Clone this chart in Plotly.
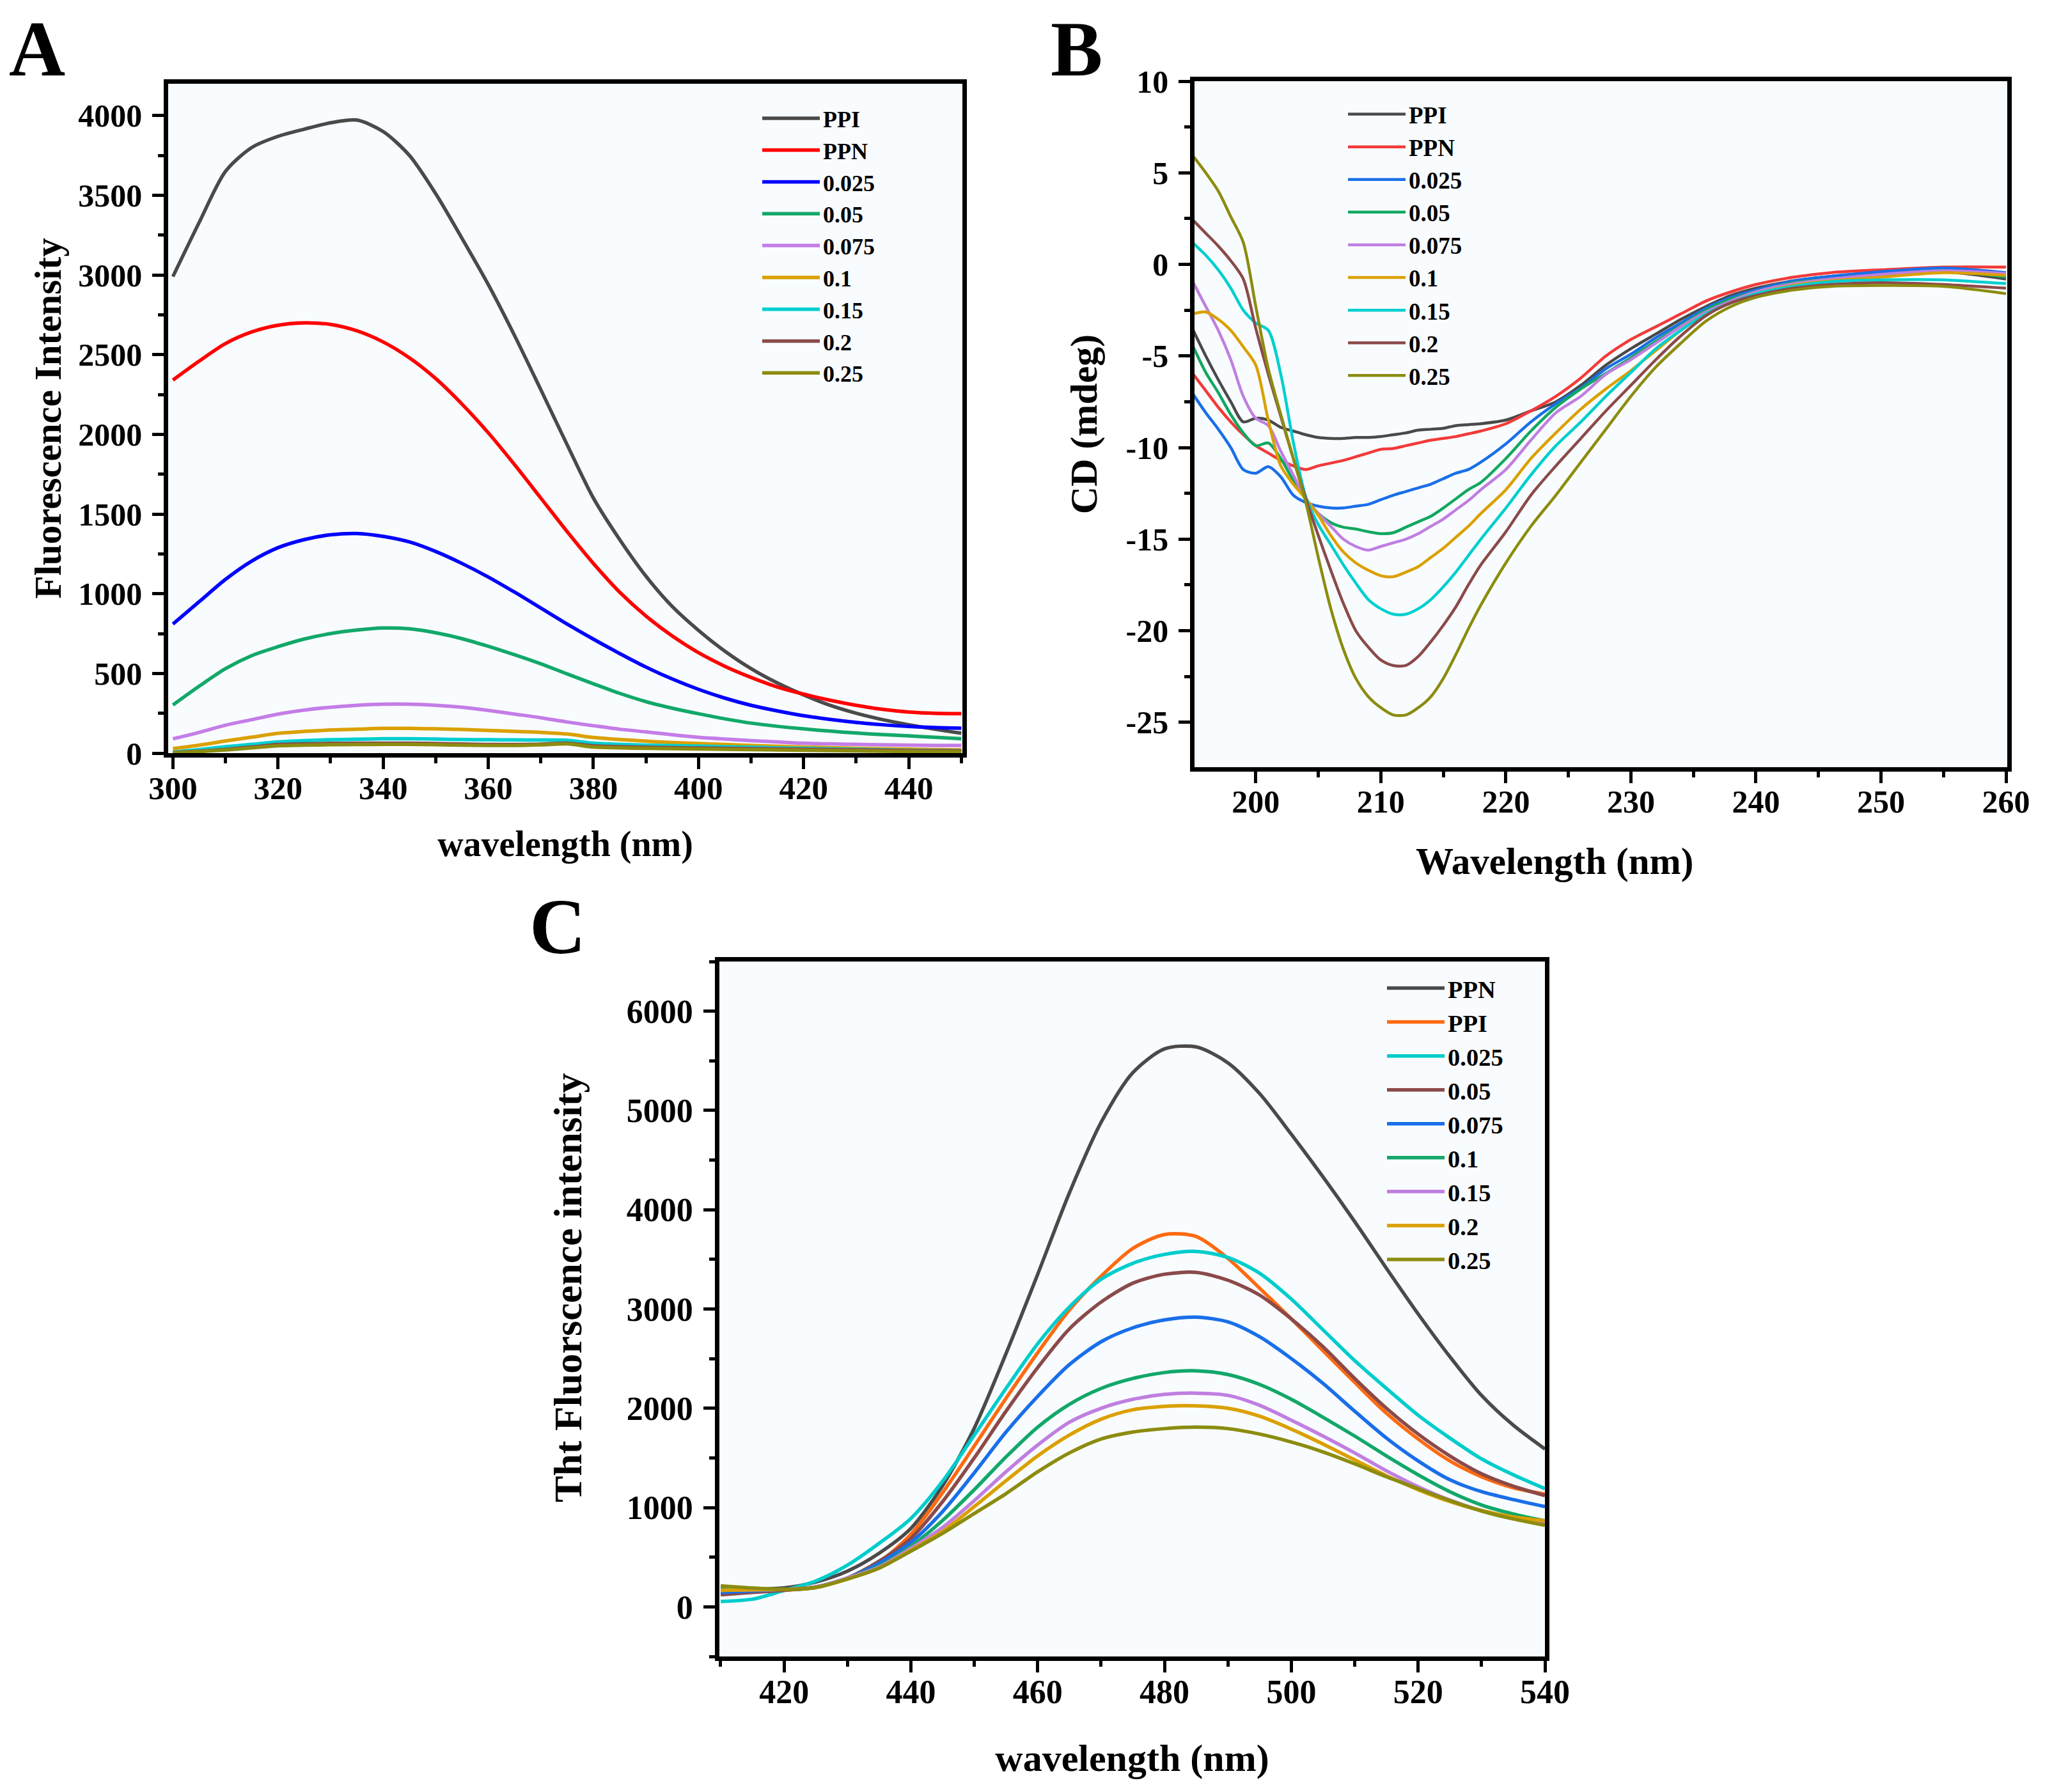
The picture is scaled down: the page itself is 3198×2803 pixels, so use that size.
import plotly.graph_objects as go

# ---------------- Panel A : intrinsic fluorescence ----------------
A_wavelength = [300, 305, 310, 315, 320, 325, 330, 335, 340, 345, 350, 355, 360, 365, 370,
                375, 380, 385, 390, 395, 400, 405, 410, 415, 420, 425, 430, 435, 440, 445, 450]
A_PPI = [2990, 3330, 3650, 3800, 3870, 3915, 3955, 3972, 3900, 3750, 3510, 3230, 2940, 2620, 2280,
         1935, 1600, 1340, 1110, 920, 770, 640, 530, 440, 365, 300, 250, 210, 178, 150, 125]
A_PPN = [2341, 2460, 2570, 2643, 2685, 2700, 2690, 2650, 2580, 2480, 2350, 2190, 2010, 1810, 1600,
         1390, 1190, 1010, 860, 735, 630, 545, 475, 415, 370, 332, 300, 275, 258, 250, 248]
A_c0025 = [810, 950, 1090, 1205, 1289, 1340, 1370, 1378, 1360, 1325, 1265, 1190, 1105, 1010, 910,
           810, 715, 625, 540, 465, 400, 345, 300, 265, 235, 212, 193, 178, 167, 160, 156]
A_c005 = [302, 420, 530, 612, 668, 716, 750, 772, 785, 780, 755, 718, 670, 617, 560,
          497, 435, 375, 323, 282, 247, 215, 188, 168, 152, 138, 126, 116, 108, 99, 90]
A_c0075 = [90, 130, 175, 210, 245, 270, 288, 300, 307, 307, 300, 288, 268, 245, 222,
           195, 172, 150, 133, 115, 99, 88, 78, 70, 62, 58, 55, 52, 50, 48, 48]
A_c01 = [28, 50, 76, 100, 124, 136, 145, 150, 155, 155, 152, 148, 142, 136, 130,
         120, 98, 85, 75, 66, 60, 54, 48, 43, 38, 34, 30, 27, 25, 22, 20]
A_c015 = [6, 22, 40, 55, 70, 78, 84, 87, 90, 90, 88, 85, 84, 83, 82,
          80, 62, 55, 50, 47, 44, 40, 37, 33, 30, 27, 24, 21, 18, 16, 14]
A_c02 = [3, 12, 23, 38, 54, 58, 61, 62, 62, 62, 60, 57, 54, 54, 56,
         62, 45, 40, 37, 34, 32, 30, 28, 26, 24, 22, 20, 18, 16, 15, 14]
A_c025 = [2, 10, 20, 33, 46, 50, 53, 54, 55, 55, 53, 50, 48, 48, 52,
          58, 38, 33, 30, 28, 26, 24, 22, 20, 18, 16, 14, 12, 11, 10, 9]
A_names = ["PPI", "PPN", "0.025", "0.05", "0.075", "0.1", "0.15", "0.2", "0.25"]
A_series = [A_PPI, A_PPN, A_c0025, A_c005, A_c0075, A_c01, A_c015, A_c02, A_c025]
A_colors = ["#4a4a4a", "#ff0000", "#0000ff", "#12a86a", "#c47de8", "#dba000", "#00cfcf", "#8b4a4a", "#8c8c10"]
A_xticks = [300, 320, 340, 360, 380, 400, 420, 440]
A_yticks = [0, 500, 1000, 1500, 2000, 2500, 3000, 3500, 4000]

# ---------------- Panel B : circular dichroism ----------------
B_wavelength = [195, 196, 197, 198, 199, 200, 201, 202, 203, 204, 205, 206, 207, 208, 209, 210,
                211, 212, 213, 214, 215, 216, 217, 218, 220, 222, 224, 226, 228, 230, 232, 234,
                236, 238, 240, 243, 246, 250, 255, 260]
B_PPI = [-3.6, -5.0, -6.3, -7.5, -8.6, -8.4, -8.5, -8.9, -9.1, -9.3, -9.45, -9.5, -9.5, -9.45, -9.45, -9.4,
         -9.3, -9.2, -9.05, -9.0, -8.95, -8.8, -8.75, -8.7, -8.5, -8.0, -7.5, -6.6, -5.5, -4.6, -3.8, -3.0,
         -2.3, -1.7, -1.3, -0.9, -0.65, -0.5, -0.4, -0.8]
B_PPN = [-6.0, -6.9, -7.8, -8.6, -9.3, -9.9, -10.3, -10.7, -11.0, -11.2, -11.0, -10.85, -10.7, -10.5, -10.3, -10.1,
         -10.05, -9.9, -9.75, -9.6, -9.5, -9.4, -9.25, -9.1, -8.7, -8.0, -7.2, -6.2, -5.0, -4.1, -3.4, -2.7,
         -2.0, -1.5, -1.1, -0.7, -0.45, -0.3, -0.15, -0.15]
B_c0025 = [-7.1, -8.1, -9.0, -10.0, -11.2, -11.4, -11.05, -11.6, -12.6, -13.0, -13.2, -13.3, -13.3, -13.2, -13.1, -12.85,
           -12.6, -12.4, -12.2, -12.0, -11.7, -11.4, -11.2, -10.8, -9.8, -8.6, -7.6, -6.75, -5.7, -4.9, -4.0, -3.2,
           -2.4, -1.8, -1.4, -0.9, -0.65, -0.4, -0.2, -0.45]
B_c005 = [-4.5, -5.9, -7.0, -8.2, -9.2, -9.9, -9.75, -10.6, -11.8, -12.8, -13.6, -14.1, -14.35, -14.45, -14.6, -14.7,
          -14.65, -14.35, -14.05, -13.75, -13.3, -12.8, -12.3, -11.9, -10.6, -9.1, -7.8, -6.8, -5.95, -5.1, -4.2, -3.35,
          -2.5, -1.9, -1.5, -1.0, -0.8, -0.6, -0.35, -0.7]
B_c0075 = [-1.0, -2.3, -3.6, -5.2, -7.2, -8.4, -8.8, -10.2, -11.5, -12.8, -13.6, -14.3, -15.0, -15.4, -15.6, -15.4,
           -15.2, -15.0, -14.7, -14.3, -13.9, -13.4, -12.9, -12.3, -11.2, -9.6, -8.1, -7.2, -6.0, -5.2, -4.3, -3.4,
           -2.6, -2.0, -1.5, -1.05, -0.8, -0.55, -0.35, -0.5]
B_c01 = [-2.7, -2.6, -3.0, -3.6, -4.5, -5.5, -8.5, -11.0, -12.0, -12.8, -13.7, -14.8, -15.7, -16.3, -16.7, -17.0,
         -17.05, -16.8, -16.5, -16.0, -15.5, -14.9, -14.3, -13.6, -12.3, -10.6, -9.2, -7.9, -6.8, -5.8, -4.7, -3.6,
         -2.7, -2.1, -1.6, -1.15, -0.9, -0.7, -0.45, -0.6]
B_c015 = [1.15, 0.5, -0.3, -1.3, -2.5, -3.2, -3.6, -6.0, -9.7, -12.7, -14.2, -15.3, -16.4, -17.4, -18.3, -18.8,
          -19.1, -19.1, -18.8, -18.3, -17.6, -16.8, -15.9, -15.0, -13.3, -11.5, -9.9, -8.6, -7.2, -5.9, -4.6, -3.6,
          -2.7, -2.1, -1.6, -1.2, -0.95, -0.85, -0.85, -1.05]
B_c02 = [2.4, 1.7, 1.0, 0.2, -0.8, -3.5, -6.0, -8.3, -10.6, -12.8, -14.8, -16.7, -18.5, -20.0, -20.9, -21.6,
         -21.9, -21.9, -21.4, -20.6, -19.7, -18.7, -17.5, -16.4, -14.6, -12.6, -11.0, -9.5, -8.0, -6.6, -5.2, -3.9,
         -2.8, -2.1, -1.7, -1.3, -1.1, -1.0, -1.1, -1.3]
B_c025 = [5.9, 5.0, 4.0, 2.6, 1.2, -2.3, -5.7, -8.2, -10.6, -13.0, -16.0, -18.8, -21.0, -22.6, -23.6, -24.2,
          -24.6, -24.6, -24.2, -23.6, -22.6, -21.3, -19.9, -18.6, -16.3, -14.3, -12.6, -10.8, -9.0, -7.2, -5.6, -4.3,
          -3.1, -2.3, -1.8, -1.4, -1.2, -1.15, -1.2, -1.6]
B_names = ["PPI", "PPN", "0.025", "0.05", "0.075", "0.1", "0.15", "0.2", "0.25"]
B_series = [B_PPI, B_PPN, B_c0025, B_c005, B_c0075, B_c01, B_c015, B_c02, B_c025]
B_colors = ["#4a4a4a", "#f23a3a", "#1a6fe8", "#12a860", "#c07fe0", "#dba000", "#00cfcf", "#8b4a4a", "#8c8c10"]
B_xticks = [200, 210, 220, 230, 240, 250, 260]
B_yticks = [-25, -20, -15, -10, -5, 0, 5, 10]
B_yticklabels = ["-25", "-20", "-15", "-10", "-5", "0", "5", "10"]

# ---------------- Panel C : ThT fluorescence ----------------
C_wavelength = [410, 415, 420, 425, 430, 435, 440, 445, 450, 455, 460, 465, 470, 475, 480,
                485, 490, 495, 500, 505, 510, 515, 520, 525, 530, 535, 540]
C_PPN = [167, 175, 190, 250, 360, 540, 790, 1220, 1800, 2550, 3350, 4170, 4880, 5380, 5620,
         5640, 5480, 5170, 4760, 4330, 3880, 3410, 2950, 2520, 2130, 1830, 1590]
C_PPI = [144, 155, 167, 200, 290, 450, 730, 1150, 1620, 2100, 2560, 2990, 3330, 3610, 3750,
         3730, 3510, 3210, 2900, 2580, 2260, 1950, 1690, 1470, 1310, 1200, 1135]
C_c0025 = [54, 77, 165, 260, 420, 640, 890, 1265, 1730, 2200, 2650, 3020, 3300, 3460, 3550,
           3580, 3520, 3360, 3100, 2790, 2480, 2200, 1930, 1700, 1490, 1330, 1190]
C_c005 = [122, 145, 167, 195, 290, 460, 690, 1060, 1500, 1970, 2410, 2800, 3070, 3260, 3350,
          3369, 3290, 3140, 2900, 2620, 2300, 2000, 1740, 1520, 1340, 1215, 1120]
C_c0075 = [144, 160, 176, 200, 290, 440, 650, 960, 1350, 1760, 2120, 2440, 2670, 2810, 2890,
           2918, 2870, 2720, 2500, 2250, 1970, 1700, 1470, 1280, 1160, 1080, 1010]
C_c01 = [190, 180, 176, 200, 290, 410, 610, 870, 1180, 1510, 1810, 2040, 2200, 2300, 2360,
         2377, 2340, 2240, 2090, 1910, 1720, 1520, 1330, 1160, 1025, 935, 866]
C_c015 = [167, 172, 176, 200, 290, 400, 590, 800, 1070, 1360, 1630, 1860, 2000, 2090, 2140,
          2152, 2130, 2030, 1880, 1720, 1550, 1370, 1210, 1075, 970, 900, 853]
C_c02 = [167, 172, 176, 195, 280, 390, 570, 760, 1010, 1270, 1520, 1730, 1890, 1985, 2020,
         2025, 2000, 1920, 1790, 1640, 1480, 1320, 1180, 1060, 970, 905, 866]
C_c025 = [212, 190, 176, 195, 280, 390, 560, 740, 940, 1140, 1360, 1550, 1690, 1760, 1795,
          1810, 1795, 1740, 1660, 1560, 1440, 1310, 1190, 1070, 965, 885, 821]
C_names = ["PPN", "PPI", "0.025", "0.05", "0.075", "0.1", "0.15", "0.2", "0.25"]
C_series = [C_PPN, C_PPI, C_c0025, C_c005, C_c0075, C_c01, C_c015, C_c02, C_c025]
C_colors = ["#4a4a4a", "#ff6a10", "#00cccc", "#8b4a4a", "#1a6fe8", "#12a86a", "#c07fe0", "#dba000", "#8c8c10"]
C_xticks = [420, 440, 460, 480, 500, 520, 540]
C_yticks = [0, 1000, 2000, 3000, 4000, 5000, 6000]

# ---------------- layout helpers ----------------
W, H = 3198, 2803
SERIF = "Liberation Serif"


def px_x(p):
    return p / W


def px_y(p):
    return 1 - p / H


fig = go.Figure()

panels = [
    ("x", "y", "legend", A_wavelength, A_series, A_names, A_colors, 5.5),
    ("x2", "y2", "legend2", B_wavelength, B_series, B_names, B_colors, 4.5),
    ("x3", "y3", "legend3", C_wavelength, C_series, C_names, C_colors, 5.5),
]
for xa, ya, lg, xs, series, names, colors, lw in panels:
    for ys, nm, col in zip(series, names, colors):
        fig.add_trace(go.Scatter(
            x=xs, y=ys, name=nm, mode="lines", xaxis=xa, yaxis=ya, legend=lg,
            line=dict(color=col, width=lw, shape="spline", smoothing=0.8),
        ))


def axis(domain, rng, tickvals, ticktext, minor_dtick, title, standoff, anchor,
         tick_size, title_size, label_standoff):
    return dict(
        domain=domain, range=rng, anchor=anchor,
        showline=True, linecolor="black", linewidth=6.5, mirror=True,
        showgrid=False, zeroline=False,
        ticks="outside", ticklen=18, tickwidth=5, tickcolor="black",
        tickmode="array", tickvals=tickvals, ticktext=ticktext,
        tickfont=dict(family=SERIF, size=tick_size, color="black", weight="bold"),
        ticklabelstandoff=label_standoff,
        minor=dict(ticks="outside", ticklen=9, tickwidth=5, tickcolor="black",
                   tick0=0, dtick=minor_dtick, showgrid=False),
        title=dict(text=title, standoff=standoff,
                   font=dict(family=SERIF, size=title_size, color="black", weight="bold")),
        automargin=False,
    )


fig.update_layout(
    width=W, height=H,
    margin=dict(l=0, r=0, t=0, b=0),
    paper_bgcolor="white",
    plot_bgcolor="#f9fcfe",
    showlegend=True,
    xaxis=axis([px_x(255), px_x(1497)], [299.1, 450.2], A_xticks, [str(v) for v in A_xticks], 10,
               "wavelength (nm)", 42, "y", 51, 56, -14),
    yaxis=axis([px_y(1170), px_y(123)], [0, 4200], A_yticks, [str(v) for v in A_yticks], 250,
               "Fluorescence Intensity", 10, "x", 50, 59, 6),
    xaxis2=axis([px_x(1860), px_x(3131)], [195.1, 260.1], B_xticks, [str(v) for v in B_xticks], 5,
                "", 46, "y2", 50, 59, -14),
    yaxis2=axis([px_y(1192), px_y(119)], [-27.45, 10], B_yticks, B_yticklabels, 2.5,
                "CD (mdeg)", 28, "x2", 50, 60, 6),
    xaxis3=axis([px_x(1117), px_x(2408)], [409.8, 540], C_xticks, [str(v) for v in C_xticks], 10,
                "wavelength (nm)", 56, "y3", 52, 60, -14),
    yaxis3=axis([px_y(2583), px_y(1496)], [-500, 6500], C_yticks, [str(v) for v in C_yticks], 500,
                "", 54, "x3", 52, 62, 6),
)

# axis titles that sit off-centre in the reference
fig.add_annotation(
    text="Wavelength (nm)", x=px_x(2423), y=px_y(1339), xref="paper", yref="paper",
    xanchor="center", yanchor="middle", showarrow=False,
    font=dict(family=SERIF, size=59, color="black", weight="bold"),
)
fig.add_annotation(
    text="Tht Fluorscence intensity", x=px_x(880), y=px_y(2006), xref="paper", yref="paper",
    xanchor="center", yanchor="middle", showarrow=False, textangle=-90,
    font=dict(family=SERIF, size=62, color="black", weight="bold"),
)

legend_common = dict(
    bgcolor="rgba(0,0,0,0)", borderwidth=0, itemwidth=90,
    xanchor="left", yanchor="top", tracegroupgap=0, traceorder="normal",
)


def lfont(size):
    return dict(family=SERIF, size=size, color="black", weight="bold")


fig.update_layout(
    legend=dict(x=px_x(1179), y=px_y(147), font=lfont(36), **legend_common),
    legend2=dict(x=px_x(2095), y=px_y(140), font=lfont(37), **legend_common),
    legend3=dict(x=px_x(2156), y=px_y(1506), font=lfont(38.5), **legend_common),
)

for letter, cx, cy in [("A", 50, 68), ("B", 1675, 68), ("C", 864, 1441)]:
    fig.add_annotation(
        text=letter, x=px_x(cx), y=px_y(cy), xref="paper", yref="paper",
        xanchor="center", yanchor="middle", showarrow=False,
        font=dict(family=SERIF, size=122, color="black", weight="bold"),
    )

fig.write_html("out.html")
